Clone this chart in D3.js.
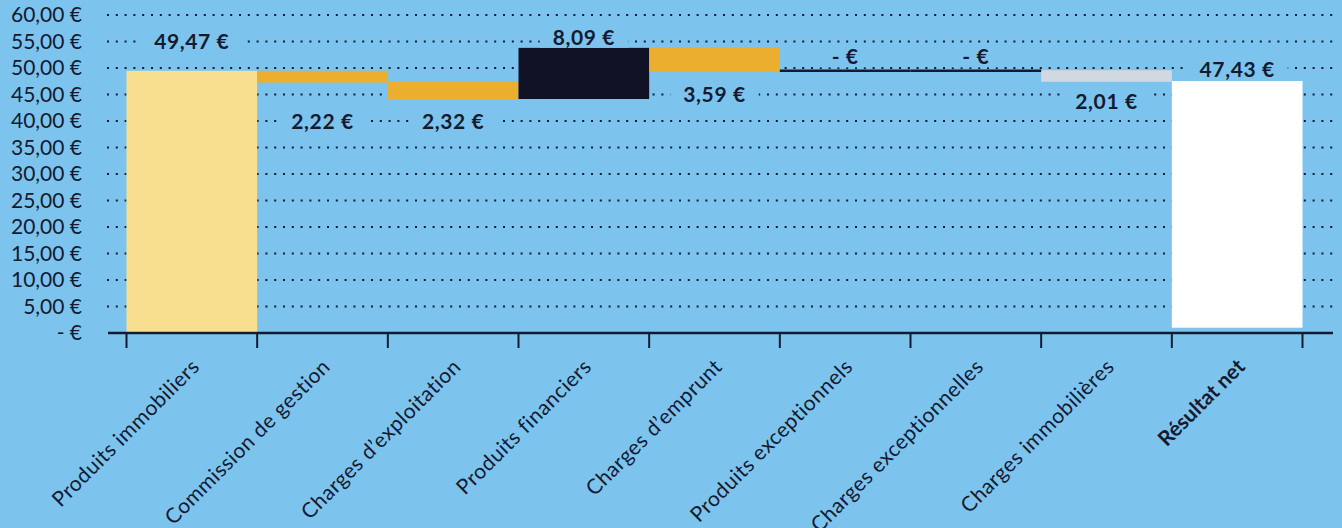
<!DOCTYPE html>
<html><head><meta charset="utf-8">
<script src="https://cdn.jsdelivr.net/npm/d3@7"></script>
<style>html,body{margin:0;padding:0;background:#7cc4ee;} svg{display:block;}</style>
</head><body><svg id="c" width="1342" height="528"></svg>
<script>
const categories = ["Produits immobiliers","Commission de gestion","Charges d’exploitation","Produits financiers","Charges d’emprunt","Produits exceptionnels","Charges exceptionnelles","Charges immobilières","Résultat net"];
const barStart = [0, 49.47, 47.4, 44.15, 53.8, 49.5, 49.5, 49.6, 1.0];
const barEnd   = [49.47, 47.25, 44.15, 53.8, 49.3, 49.5, 49.5, 47.4, 47.55];
const barKind  = ["produit","charge","charge","financier","charge","nul","nul","immo","resultat"];
const valueLabels = ["49,47 €","2,22 €","2,32 €","8,09 €","3,59 €","- €","- €","2,01 €","47,43 €"];
const labelAt = [55, 40, 40, 55.8, 45, 52.1, 52.1, 43.6, 49.8];
const yTicks = [0,5,10,15,20,25,30,35,40,45,50,55,60];
const yTickLabels = ["- €","5,00 €","10,00 €","15,00 €","20,00 €","25,00 €","30,00 €","35,00 €","40,00 €","45,00 €","50,00 €","55,00 €","60,00 €"];

const BG = "#7cc4ee", INK = "#141a30";
const colors = {produit:"#f7df8f", charge:"#ebae2e", financier:"#111226", nul:INK, immo:"#d2d8e0", resultat:"#ffffff"};
const FONT = "Lato, 'Open Sans', sans-serif";

const svg = d3.select("#c");
svg.append("rect").attr("width",1342).attr("height",528).attr("fill",BG);

const x = d3.scaleBand().domain(categories).range([126.5, 1302.5]).padding(0);
const y = d3.scaleLinear().domain([0,60]).range([333,15]);

// gridlines
svg.append("g").selectAll("line").data(yTicks.filter(d=>d>0)).join("line")
  .attr("x1",107).attr("x2",1334)
  .attr("y1",d=>y(d)).attr("y2",d=>y(d))
  .attr("stroke",INK).attr("stroke-width",2).attr("stroke-dasharray","2 6.8");

// bars
const data = categories.map((c,i)=>({c, s:barStart[i], e:barEnd[i], k:barKind[i], l:valueLabels[i], la:labelAt[i]}));
svg.append("g").selectAll("rect").data(data.filter(d=>d.k!=="nul")).join("rect")
  .attr("x",d=>x(d.c)).attr("width",x.bandwidth())
  .attr("y",d=>y(Math.max(d.s,d.e))).attr("height",d=>Math.abs(y(d.s)-y(d.e)))
  .attr("fill",d=>colors[d.k]);
svg.append("g").selectAll("line").data(data.filter(d=>d.k==="nul")).join("line")
  .attr("x1",d=>x(d.c)).attr("x2",d=>x(d.c)+x.bandwidth())
  .attr("y1",d=>y(d.s)).attr("y2",d=>y(d.s))
  .attr("stroke",colors.nul).attr("stroke-width",2.5);

// y axis
const ya = svg.append("g").attr("transform","translate(82,0)")
  .call(d3.axisLeft(y).tickValues(yTicks).tickFormat((d,i)=>yTickLabels[i]).tickSize(0).tickPadding(0));
ya.select(".domain").remove();
ya.selectAll("text").attr("font-family",FONT).attr("font-size",21).attr("fill",INK);

// x axis baseline + ticks at band boundaries
svg.append("line").attr("x1",108).attr("x2",1333).attr("y1",y(0)).attr("y2",y(0))
  .attr("stroke",INK).attr("stroke-width",2.5);
const bounds = categories.map(c=>x(c)).concat([x(categories[categories.length-1])+x.bandwidth()]);
svg.append("g").selectAll("line").data(bounds).join("line")
  .attr("x1",d=>d).attr("x2",d=>d).attr("y1",y(0)).attr("y2",y(0)+15)
  .attr("stroke",INK).attr("stroke-width",2);

// x labels
const xa = svg.append("g").attr("transform",`translate(0,${y(0)})`)
  .call(d3.axisBottom(x).tickSize(0).tickPadding(0));
xa.select(".domain").remove();
xa.selectAll("text")
  .attr("font-family",FONT).attr("font-size",21).attr("fill",INK)
  .attr("letter-spacing",d=>d==="Résultat net"?"0":"0.5px")
  .attr("text-anchor","end").attr("dy",0).attr("y",0)
  .attr("transform","translate(9,35) rotate(-45)")
  .attr("font-weight",d=>d==="Résultat net"?"bold":"normal");

// value labels with background boxes
const lg = svg.append("g");
data.forEach(d=>{
  const g = lg.append("g");
  const t = g.append("text").attr("x",x(d.c)+x.bandwidth()/2).attr("y",y(d.la))
    .attr("dy","0.36em").attr("text-anchor","middle")
    .attr("font-family",FONT).attr("font-weight","bold").attr("font-size",21).attr("fill",INK)
    .attr("letter-spacing","0.6px")
    .text(d.l);
  const b = t.node().getBBox();
  g.insert("rect","text").attr("x",b.x-13).attr("y",b.y+1).attr("width",b.width+26).attr("height",b.height-2).attr("fill",BG);
});
</script></body></html>
